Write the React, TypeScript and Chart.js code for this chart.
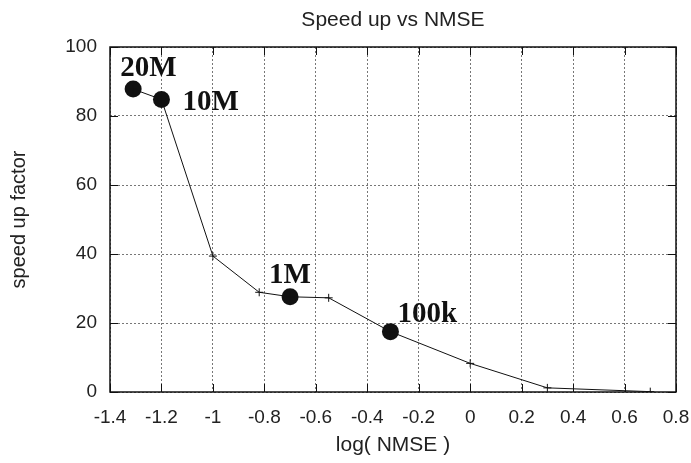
import React, { useEffect, useRef } from "react";
import { Chart, registerables } from "chart.js";

Chart.register(...registerables);

// ---- data ----
const lineX: number[] = [-1.31, -1.2, -1.0, -0.82, -0.7, -0.55, -0.31, 0.0, 0.3, 0.7];
const lineY: number[] = [87.8, 84.8, 39.4, 28.9, 27.6, 27.3, 17.5, 8.3, 1.2, 0.1];

const dotLabels: string[] = ["20M", "10M", "1M", "100k"];
const dotX: number[] = [-1.31, -1.2, -0.7, -0.31];
const dotY: number[] = [87.8, 84.8, 27.6, 17.5];

const xTicks: number[] = [-1.4, -1.2, -1, -0.8, -0.6, -0.4, -0.2, 0, 0.2, 0.4, 0.6, 0.8];
const yTicks: number[] = [0, 20, 40, 60, 80, 100];

const chartTitle = "Speed up vs NMSE";
const xTitle = "log( NMSE )";
const yTitle = "speed up factor";

// label placement (pixel offsets from each dot)
const labelOffsets: [number, number][] = [
  [-13, -13],
  [21, 11],
  [-21, -14],
  [7, -10],
];

const SANS = '"Liberation Sans", Arial, Helvetica, sans-serif';
const SERIF = '"Liberation Serif", "Times New Roman", serif';

const frame = {
  id: "frameTicks",
  beforeDatasetsDraw(chart: any) {
    const { ctx, chartArea } = chart;
    const { left, right, top, bottom } = chartArea;
    const xs = chart.scales.x;
    const ys = chart.scales.y;
    const t = 8;
    ctx.save();
    ctx.strokeStyle = "#111";
    ctx.lineWidth = 1;
    ctx.beginPath();
    for (const v of xTicks) {
      const px = Math.round(xs.getPixelForValue(v)) + 0.5;
      ctx.moveTo(px, bottom);
      ctx.lineTo(px, bottom - t);
      ctx.moveTo(px, top);
      ctx.lineTo(px, top + t);
    }
    for (const v of yTicks) {
      const py = Math.round(ys.getPixelForValue(v)) + 0.5;
      ctx.moveTo(left, py);
      ctx.lineTo(left + t, py);
      ctx.moveTo(right, py);
      ctx.lineTo(right - t, py);
    }
    ctx.stroke();
    ctx.lineWidth = 1.5;
    ctx.strokeRect(left, top, right - left, bottom - top);
    ctx.restore();
  },
};

const texts = {
  id: "texts",
  afterDatasetsDraw(chart: any) {
    const { ctx, chartArea } = chart;
    const meta = chart.getDatasetMeta(1);
    ctx.save();
    // chart title centred over the plot area
    ctx.fillStyle = "#222";
    ctx.font = `21px ${SANS}`;
    ctx.textAlign = "center";
    ctx.textBaseline = "middle";
    ctx.fillText(chartTitle, (chartArea.left + chartArea.right) / 2, 20);
    // dot labels
    ctx.fillStyle = "#111";
    ctx.font = `bold 29px ${SERIF}`;
    ctx.textAlign = "left";
    ctx.textBaseline = "alphabetic";
    meta.data.forEach((pt: any, i: number) => {
      const [dx, dy] = labelOffsets[i];
      ctx.fillText(dotLabels[i], pt.x + dx, pt.y + dy);
    });
    ctx.restore();
  },
};

export default function App() {
  const ref = useRef<HTMLCanvasElement | null>(null);

  useEffect(() => {
    if (!ref.current) return;
    const chart = new Chart(ref.current, {
      type: "scatter",
      data: {
        datasets: [
          {
            data: lineX.map((x, i) => ({ x, y: lineY[i] })),
            showLine: true,
            borderColor: "#111",
            borderWidth: 1,
            pointStyle: "cross",
            pointRadius: 4,
            pointBorderColor: "#111",
            pointBorderWidth: 1,
            backgroundColor: "#111",
          },
          {
            data: dotX.map((x, i) => ({ x, y: dotY[i] })),
            showLine: false,
            pointStyle: "circle",
            pointRadius: 8.5,
            pointBorderWidth: 0,
            backgroundColor: "#111",
            borderColor: "#111",
          },
        ],
      },
      options: {
        responsive: false,
        animation: false,
        devicePixelRatio: 1,
        layout: { padding: { left: 0, right: 15, top: 47, bottom: 0 } },
        plugins: {
          legend: { display: false },
          tooltip: { enabled: false },
          title: { display: false },
        },
        scales: {
          x: {
            type: "linear",
            min: -1.4,
            max: 0.8,
            afterBuildTicks: (s: any) => {
              s.ticks = xTicks.map((v) => ({ value: v }));
            },
            afterFit: (s: any) => {
              s.height = 71;
              s.paddingLeft = 0;
              s.paddingRight = 0;
            },
            ticks: {
              color: "#222",
              font: { family: SANS, size: 19 },
              padding: 14,
              maxRotation: 0,
              autoSkip: false,
              callback: (v: any) => String(Math.round(Number(v) * 10) / 10),
            },
            grid: { color: "#777", lineWidth: 1, drawTicks: false },
            border: { display: false, dash: [2, 2] },
            title: {
              display: true,
              text: xTitle,
              color: "#222",
              font: { family: SANS, size: 21, lineHeight: 1.2 },
              padding: 5,
            },
          },
          y: {
            type: "linear",
            min: 0,
            max: 100,
            afterBuildTicks: (s: any) => {
              s.ticks = yTicks.map((v) => ({ value: v }));
            },
            afterFit: (s: any) => {
              s.width = 110;
              s.paddingTop = 0;
              s.paddingBottom = 0;
            },
            ticks: {
              color: "#222",
              font: { family: SANS, size: 19 },
              padding: 13,
            },
            grid: { color: "#777", lineWidth: 1, drawTicks: false },
            border: { display: false, dash: [2, 2] },
            title: {
              display: true,
              text: yTitle,
              color: "#222",
              font: { family: SANS, size: 20, lineHeight: 1.2 },
              padding: 7.5,
            },
          },
        },
      },
      plugins: [frame, texts],
    });
    return () => chart.destroy();
  }, []);

  return (
    <div style={{ position: "fixed", left: 0, top: 0, width: 691, height: 463, background: "#fff" }}>
      <canvas ref={ref} width={691} height={463} style={{ display: "block" }} />
    </div>
  );
}
